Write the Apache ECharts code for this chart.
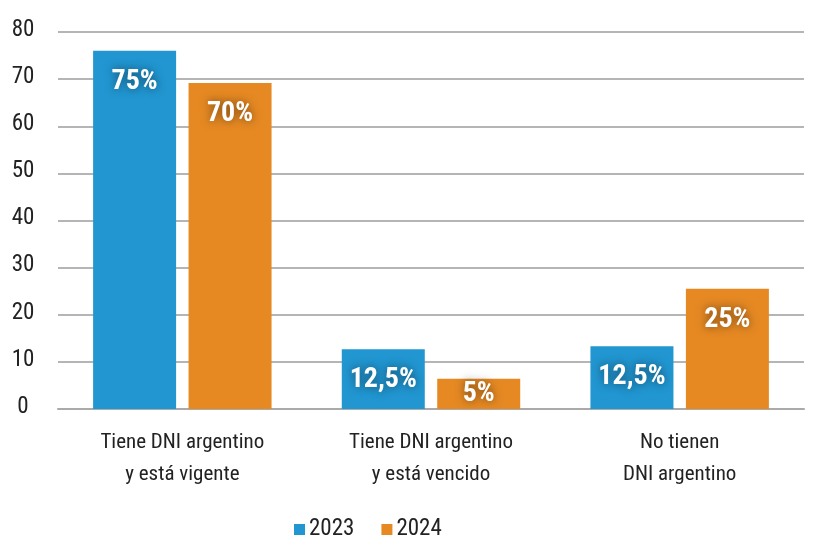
<!DOCTYPE html>
<html>
<head>
<meta charset="utf-8">
<script src="https://cdn.jsdelivr.net/npm/echarts@6/dist/echarts.min.js"></script>
<style>
  html, body { margin: 0; padding: 0; background: #fff; }
  #chart { width: 818px; height: 536px; }
</style>
</head>
<body>
<div id="chart"></div>
<script>
// categorias del eje x
const categorias = ['Tiene DNI argentino\ny está vigente', 'Tiene DNI argentino\ny está vencido', 'No tienen\nDNI argentino']
// alturas de las barras
const valores2023 = [76, 12.7, 13.3]
const valores2024 = [69.2, 6.4, 25.5]
// etiquetas que aparecen dentro de las barras
const etiquetas2023 = ['75%', '12,5%', '12,5%']
const etiquetas2024 = ['70%', '5%', '25%']

const fuente = "'Roboto Condensed', 'DejaVu Sans Condensed', sans-serif"

const chart = echarts.init(document.getElementById('chart'))

// barras bajas llevan la etiqueta centrada
function datos(valores, textos) {
    return valores.map((v, i) => ({
        value: v,
        label: {
            formatter: textos[i],
            position: v < 10 ? 'inside' : 'insideTop'
        }
    }))
}

const estiloEtiqueta = {
    show: true,
    distance: 17,
    color: '#fff',
    fontFamily: fuente,
    fontWeight: 'bold',
    fontSize: 28,
    textShadowColor: 'rgba(0,0,0,0.55)',
    textShadowBlur: 10
}

chart.setOption({
    animation: false,
    grid: {
        left: 58,
        right: 14,
        top: 32,
        bottom: 127
    },
    legend: {
        left: 294,
        top: 518,
        padding: 0,
        itemWidth: 11,
        itemHeight: 11,
        itemGap: 27,
        icon: 'rect',
        textStyle: {
            fontFamily: fuente,
            fontSize: 23,
            color: '#222',
            padding: [0, 0, 0, -1]
        },
        data: ['2023', '2024']
    },
    xAxis: {
        type: 'category',
        data: categorias,
        axisTick: { show: false },
        axisLine: { lineStyle: { color: '#aaa', width: 2 } },
        axisLabel: {
            margin: 18,
            fontFamily: fuente,
            fontSize: 21,
            lineHeight: 32,
            color: '#222'
        }
    },
    yAxis: {
        type: 'value',
        min: 0,
        max: 80,
        interval: 10,
        axisLine: { show: false },
        axisTick: { show: false },
        splitLine: { lineStyle: { color: '#b5b5b5', width: 2 } },
        axisLabel: {
            margin: 35,
            align: 'center',
            formatter: '{n|{value}}\n{e|}',
            rich: {
                n: {
                    fontFamily: fuente,
                    fontSize: 23,
                    lineHeight: 23,
                    color: '#222'
                },
                e: {
                    lineHeight: 4
                }
            }
        }
    },
    series: [
        {
            name: '2023',
            type: 'bar',
            data: datos(valores2023, etiquetas2023),
            barWidth: 83,
            barGap: '15%',
            itemStyle: { color: '#2196d1' },
            label: estiloEtiqueta
        },
        {
            name: '2024',
            type: 'bar',
            data: datos(valores2024, etiquetas2024),
            barWidth: 83,
            barGap: '15%',
            itemStyle: { color: '#e68923' },
            label: estiloEtiqueta
        }
    ]
})
</script>
</body>
</html>
